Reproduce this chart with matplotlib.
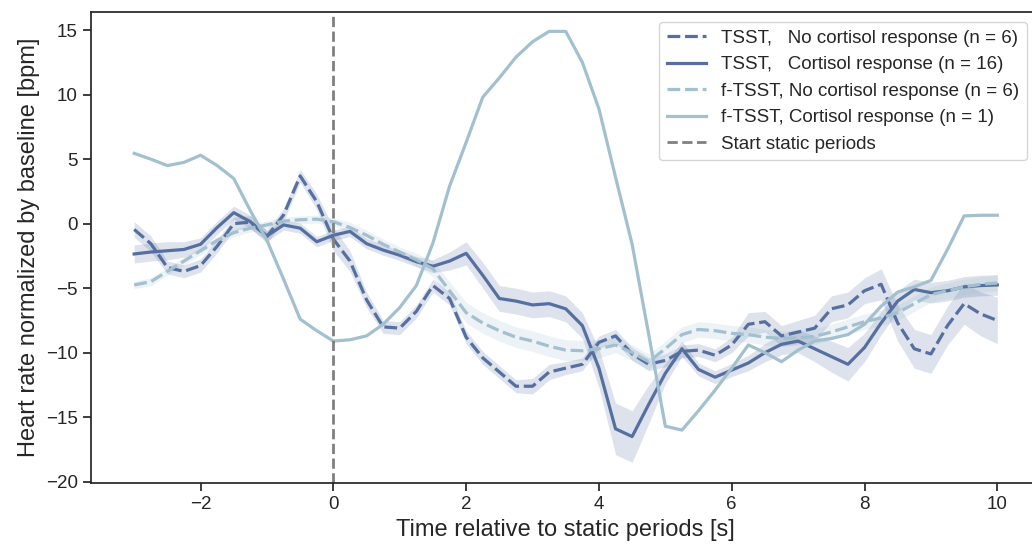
import matplotlib
matplotlib.use("Agg")
import matplotlib.pyplot as plt
import numpy as np

# time axis (s) relative to the start of the static periods
time_s = np.arange(-3.0, 10.01, 0.25)

# TSST, no cortisol response (mean, 95% CI half width)
tsst_no_resp = [
    -0.45, -1.55, -3.4, -3.7, -3.25, -1.75, 0.0, 0.12, -1.0, 0.67,
    3.7, 1.7, -1.2, -2.9, -5.9, -8.0, -8.1, -6.8, -4.8, -5.8,
    -8.8, -10.4, -11.5, -12.6, -12.6, -11.5, -11.2, -10.9, -9.2, -8.7,
    -10.1, -10.9, -10.6, -9.9, -9.8, -10.2, -9.4, -7.8, -7.6, -8.7,
    -8.4, -8.1, -6.6, -6.3, -5.2, -4.7, -7.7, -9.7, -10.1, -7.9,
    -6.2, -7.0, -7.5]
tsst_no_resp_ci = [
    0.6, 0.6, 0.5, 0.5, 0.5, 0.5, 0.5, 0.5, 0.5, 0.5,
    0.5, 0.6, 0.9, 0.8, 0.6, 0.5, 0.5, 0.5, 0.5, 0.5,
    0.5, 0.5, 0.5, 0.5, 0.6, 0.6, 0.5, 0.5, 0.5, 0.5,
    0.5, 0.5, 0.5, 0.5, 0.5, 0.5, 0.6, 0.9, 0.8, 0.8,
    0.9, 1.0, 1.0, 1.0, 1.0, 1.2, 1.4, 1.5, 1.5, 1.5,
    1.6, 1.7, 1.8]

# TSST, cortisol response
tsst_resp = [
    -2.35, -2.2, -2.1, -2.0, -1.6, -0.3, 0.85, 0.15, -0.95, -0.1,
    -0.35, -1.4, -0.9, -0.6, -1.55, -2.05, -2.45, -2.95, -3.3, -2.9,
    -2.3, -4.0, -5.8, -6.0, -6.3, -6.2, -6.6, -7.9, -11.2, -15.9,
    -16.5, -14.0, -11.6, -9.7, -11.3, -11.9, -11.35, -10.8, -10.0, -9.35,
    -9.1, -9.7, -10.3, -10.9, -9.6, -7.7, -6.0, -5.1, -5.35, -5.2,
    -4.9, -4.8, -4.75]
tsst_resp_ci = [
    0.7, 0.7, 0.7, 0.6, 0.5, 0.5, 0.5, 0.5, 0.4, 0.4,
    0.4, 0.4, 0.4, 0.4, 0.4, 0.4, 0.4, 0.4, 0.5, 0.7,
    0.9, 1.0, 1.0, 1.0, 1.0, 1.0, 1.0, 1.0, 1.5, 2.0,
    2.0, 1.5, 0.8, 0.6, 0.5, 0.5, 0.5, 0.6, 0.7, 0.8,
    0.9, 1.0, 1.2, 1.3, 1.1, 0.9, 0.8, 0.8, 0.8, 0.8,
    0.8, 0.8, 0.8]

# f-TSST, no cortisol response
ftsst_no_resp = [
    -4.75, -4.5, -3.7, -2.9, -2.1, -1.3, -0.7, -0.35, -0.1, 0.2,
    0.3, 0.35, 0.15, -0.3, -0.9, -1.6, -2.2, -2.8, -3.5, -5.2,
    -6.9, -7.7, -8.3, -8.8, -9.1, -9.5, -9.8, -9.85, -9.7, -9.4,
    -10.0, -10.7, -9.7, -8.6, -8.2, -8.3, -8.5, -8.6, -8.8, -8.9,
    -8.85, -8.75, -8.4, -8.0, -7.6, -7.3, -6.9, -6.2, -5.5, -5.2,
    -4.9, -4.7, -4.6]
ftsst_no_resp_ci = [
    0.3, 0.3, 0.3, 0.3, 0.3, 0.3, 0.3, 0.3, 0.3, 0.3,
    0.3, 0.3, 0.3, 0.4, 0.4, 0.4, 0.4, 0.5, 0.6, 0.7,
    0.8, 0.8, 0.8, 0.8, 0.8, 0.8, 0.8, 0.8, 0.7, 0.6,
    0.6, 0.6, 0.6, 0.6, 0.6, 0.6, 0.6, 0.6, 0.6, 0.6,
    0.6, 0.6, 0.6, 0.6, 0.6, 0.6, 0.6, 0.6, 0.6, 0.6,
    0.6, 0.6, 0.6]

# f-TSST, cortisol response (single subject, no CI)
ftsst_resp = [
    5.45, 5.0, 4.5, 4.75, 5.3, 4.5, 3.5, 1.0, -1.3, -4.3,
    -7.4, -8.3, -9.1, -9.0, -8.7, -7.8, -6.5, -4.8, -1.5, 2.9,
    6.3, 9.8, 11.3, 12.9, 14.1, 14.9, 14.9, 12.5, 8.9, 3.6,
    -1.6, -8.6, -15.7, -16.0, -14.5, -12.9, -11.2, -9.4, -10.0, -10.7,
    -9.8, -9.1, -8.9, -8.6, -7.8, -6.4, -5.3, -4.9, -4.4, -2.0,
    0.6, 0.65, 0.65]

labels = [
    "TSST,   No cortisol response (n = 6)",
    "TSST,   Cortisol response (n = 16)",
    "f-TSST, No cortisol response (n = 6)",
    "f-TSST, Cortisol response (n = 1)",
]

dark = "#5570a0"
light = "#a2c0cf"
text_col = "#262626"

plt.rcParams["font.family"] = ["Liberation Sans", "DejaVu Sans"]
plt.rcParams["text.color"] = text_col
plt.rcParams["axes.labelcolor"] = text_col
plt.rcParams["xtick.color"] = text_col
plt.rcParams["ytick.color"] = text_col

fig = plt.figure(figsize=(10.32, 5.47), dpi=100)
ax = fig.add_axes([0.0882, 0.117, 0.92, 0.861])

lw = 2.3
dash = (4, 1.5)
series = [
    (tsst_no_resp, tsst_no_resp_ci, dark, True),
    (tsst_resp, tsst_resp_ci, dark, False),
    (ftsst_no_resp, ftsst_no_resp_ci, light, True),
    (ftsst_resp, None, light, False),
]
for (y, ci, col, dashed), lab in zip(series, labels):
    y = np.asarray(y)
    line, = ax.plot(time_s, y, color=col, lw=lw, label=lab)
    if dashed:
        line.set_dashes(dash)
    if ci is not None:
        ci = np.asarray(ci)
        ax.fill_between(time_s, y - ci, y + ci, color=col, alpha=0.2, lw=0)

ax.axvline(0, color="gray", ls="--", lw=2, label="Start static periods")

ax.set_xlim(-3.65, 10.65)
ax.set_ylim(-20.1, 16.4)
ax.set_yticks(np.arange(-20, 16, 5))
ax.set_xticks(np.arange(-2, 11, 2))
ax.tick_params(labelsize=13.5, length=6, width=1.25)
for s in ax.spines.values():
    s.set_linewidth(1.25)
    s.set_color(text_col)

ax.set_xlabel("Time relative to static periods [s]", fontsize=17)
ax.set_ylabel("Heart rate normalized by baseline [bpm]", fontsize=17)

ax.legend(loc="upper right", bbox_to_anchor=(0.9915, 0.99), fontsize=13.5,
          handlelength=2.1, frameon=True, fancybox=True, edgecolor="#cccccc",
          borderaxespad=0.3)

fig.savefig("out.png", dpi=100)
